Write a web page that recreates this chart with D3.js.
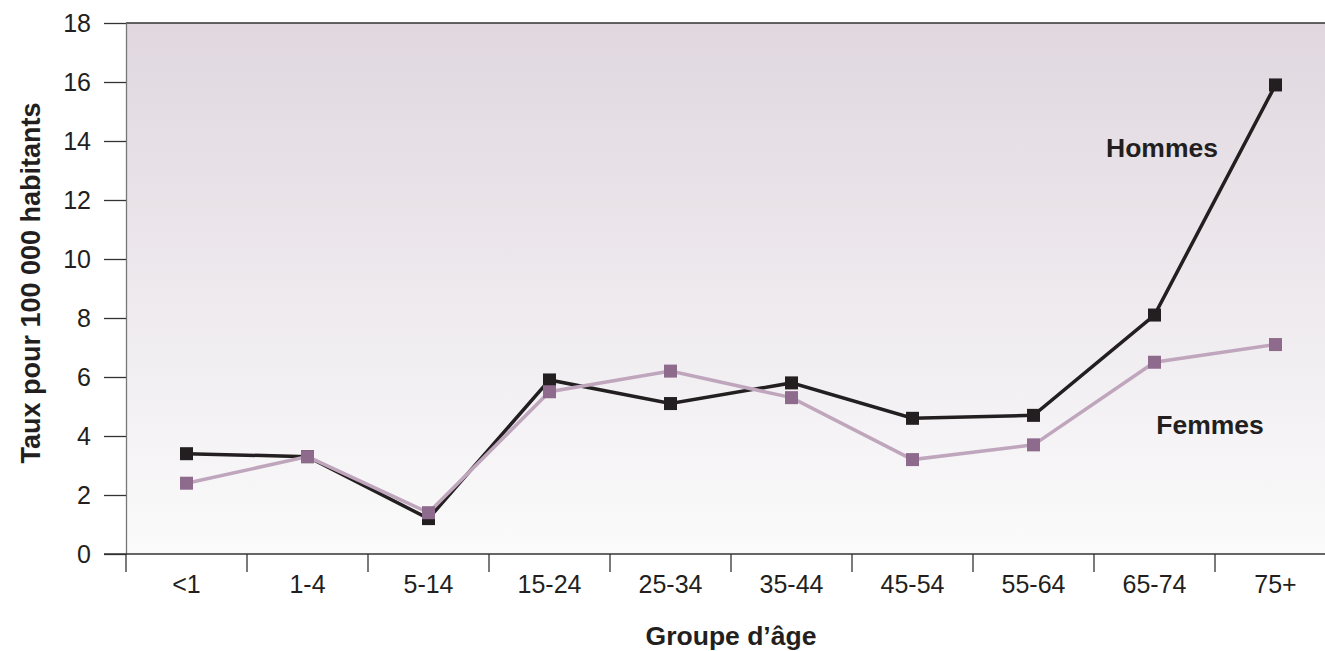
<!DOCTYPE html>
<html><head><meta charset="utf-8">
<script src="https://cdn.jsdelivr.net/npm/d3@7"></script>
<style>body{margin:0;background:#fff}svg{display:block}</style>
</head><body>
<svg id="c" width="1325" height="651"></svg>
<script>
const categories = ["<1","1-4","5-14","15-24","25-34","35-44","45-54","55-64","65-74","75+"];
const hommes = [3.4,3.3,1.2,5.9,5.1,5.8,4.6,4.7,8.1,15.9];
const femmes = [2.4,3.3,1.4,5.5,6.2,5.3,3.2,3.7,6.5,7.1];
const yTicks = [0,2,4,6,8,10,12,14,16,18];

const svg = d3.select("#c");
const L = 126, R = 1336, T = 23, B = 554;
const x = d3.scaleBand().domain(categories).range([L, R]).padding(0);
const y = d3.scaleLinear().domain([0, 18]).range([B, T]);
const font = "'Liberation Sans', Arial, Helvetica, sans-serif";

const defs = svg.append("defs");
const g = defs.append("linearGradient").attr("id","bg").attr("x1",0).attr("y1",0).attr("x2",0).attr("y2",1);
g.append("stop").attr("offset","0%").attr("stop-color","#e0d7df");
g.append("stop").attr("offset","55%").attr("stop-color","#efebef");
g.append("stop").attr("offset","100%").attr("stop-color","#fbfbfb");

svg.append("rect").attr("x",L).attr("y",T).attr("width",R-L).attr("height",B-T).attr("fill","url(#bg)");
svg.append("line").attr("x1",L).attr("x2",R).attr("y1",T).attr("y2",T).attr("stroke","#333").attr("stroke-width",1.5);

// Y axis
const ya = svg.append("g").attr("transform",`translate(${L},0)`)
  .call(d3.axisLeft(y).tickValues(yTicks).tickSize(22).tickPadding(13).tickSizeOuter(0));
ya.select(".domain").attr("stroke","#777").attr("stroke-width",1.3);
ya.selectAll(".tick line").attr("stroke","#333").attr("stroke-width",1.3);
ya.selectAll(".tick text").attr("font-family",font).attr("font-size",25).attr("fill","#231f20");

// X axis
const xa = svg.append("g").attr("transform",`translate(0,${B})`)
  .call(d3.axisBottom(x).tickSize(0).tickPadding(21).tickSizeOuter(0));
xa.select(".domain").remove();
xa.selectAll(".tick text").attr("font-family",font).attr("font-size",25).attr("fill","#231f20");
svg.append("line").attr("x1",104).attr("x2",R).attr("y1",B).attr("y2",B).attr("stroke","#333").attr("stroke-width",1.3);
svg.selectAll(".xb").data(categories).enter().append("line")
  .attr("x1",d=>x(d)).attr("x2",d=>x(d)).attr("y1",B).attr("y2",B+18)
  .attr("stroke","#333").attr("stroke-width",1.3);

// Titles
svg.append("text").attr("transform",`translate(40,283) rotate(-90)`).attr("text-anchor","middle")
  .attr("font-family",font).attr("font-weight","bold").attr("font-size",27).attr("fill","#231f20")
  .text("Taux pour 100 000 habitants");
svg.append("text").attr("x",731).attr("y",645).attr("text-anchor","middle")
  .attr("font-family",font).attr("font-weight","bold").attr("font-size",26.5).attr("fill","#231f20")
  .text("Groupe d’âge");

const cx = (d,i)=> x(categories[i]) + x.bandwidth()/2;
const line = d3.line().x((d,i)=>cx(d,i)).y(d=>y(d));

svg.append("path").datum(hommes).attr("d",line).attr("fill","none").attr("stroke","#231f20").attr("stroke-width",3.5);
svg.append("path").datum(femmes).attr("d",line).attr("fill","none").attr("stroke","#bfa6bd").attr("stroke-width",3.5);

const s = 13;
svg.selectAll(".mh").data(hommes).enter().append("rect")
  .attr("x",(d,i)=>cx(d,i)-s/2).attr("y",d=>y(d)-s/2).attr("width",s).attr("height",s).attr("fill","#231f20");
svg.selectAll(".mf").data(femmes).enter().append("rect")
  .attr("x",(d,i)=>cx(d,i)-s/2).attr("y",d=>y(d)-s/2).attr("width",s).attr("height",s).attr("fill","#8e6a8c");

svg.append("text").attr("x",1162).attr("y",157).attr("text-anchor","middle")
  .attr("font-family",font).attr("font-weight","bold").attr("font-size",26.5).attr("fill","#231f20").text("Hommes");
svg.append("text").attr("x",1210).attr("y",434).attr("text-anchor","middle")
  .attr("font-family",font).attr("font-weight","bold").attr("font-size",26.5).attr("fill","#231f20").text("Femmes");
</script>
</body></html>
